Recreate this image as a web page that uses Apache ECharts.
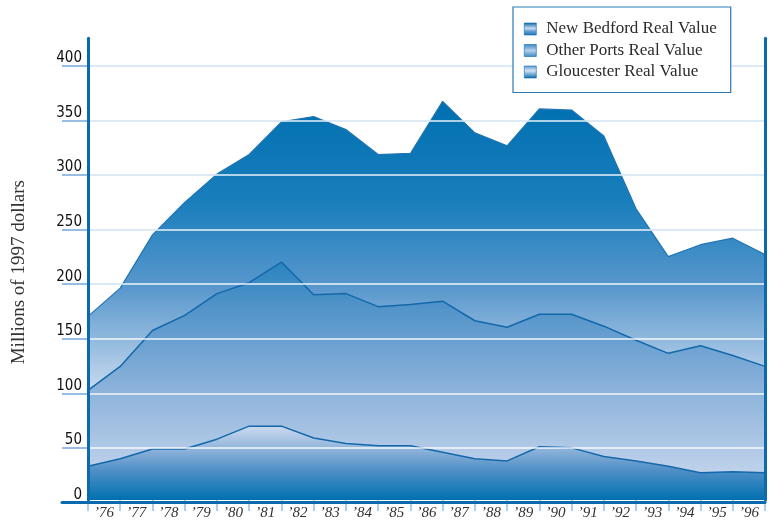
<!DOCTYPE html>
<html>
<head>
<meta charset="utf-8">
<script src="https://cdn.jsdelivr.net/npm/echarts@6/dist/echarts.min.js"></script>
<style>
  html, body { margin: 0; padding: 0; background: #fff; }
  #main { width: 772px; height: 521px; }
</style>
</head>
<body>
<div id="main"></div>
<script>
// points sit on the tick marks, year labels sit between them
const pointKeys = ['76a','77a','78a','79a','80a','81a','82a','83a','84a','85a','86a',
  '87a','88a','89a','90a','91a','92a','93a','94a','95a','96a','96b'];
const yearLabels = ['’76','’77','’78','’79','’80','’81','’82','’83','’84','’85','’86',
  '’87','’88','’89','’90','’91','’92','’93','’94','’95','’96'];

// values in millions of 1997 dollars (stacked: Gloucester, Other Ports, New Bedford)
const gloucester = [31,38,47,47,56,68,68,57,52,50,50,44,38,36,49,48,40,36,31,25,26,25];
const otherPorts = [70,85,109,123,134,132,151,132,138,128,130,139,127,123,122,123,120,111,104,117,107,98];
const newBedford = [68,72,88,104,110,118,129,164,151,140,139,184,173,167,189,188,175,121,89,93,108,103];

const dark = '#0a6aad';
const lightGrid = '#98bde3';
const serif = "'Liberation Serif', 'DejaVu Serif', serif";

function grad(stops) {
  return new echarts.graphic.LinearGradient(0, 0, 0, 1,
    stops.map(s => ({ offset: s[0], color: s[1] })));
}

const chart = echarts.init(document.getElementById('main'));

const option = {
  animation: false,
  backgroundColor: '#fff',
  grid: [
    { left: 62, right: 7, top: 65.7, bottom: 18.3 },   // light blue lines + bottom axis
    { left: 88, right: 7, top: 38.3, bottom: 18.3 },   // data
    { left: 88, right: 7, top: 65.7, bottom: 18.3 }    // white lines + labels
  ],
  legend: {
    orient: 'vertical',
    z: 10,
    left: 513,
    top: 7,
    padding: [13.5, 14, 12, 11],
    itemWidth: 12,
    itemHeight: 12,
    itemGap: 4.5,
    backgroundColor: '#fff',
    borderColor: '#2a7ab8',
    borderWidth: 1.2,
    textStyle: {
      fontFamily: serif,
      fontSize: 17,
      color: '#2b2b2b',
      padding: [0, 0, 0, 5]
    },
    data: [
      { name: 'New Bedford Real Value', icon: 'rect',
        itemStyle: { color: grad([[0, '#0a6aad'], [0.45, '#c9dcf0'], [0.7, '#5c9ad0'], [1, '#1a78b8']]), borderColor: dark, borderWidth: 0.6 } },
      { name: 'Other Ports Real Value', icon: 'rect',
        itemStyle: { color: grad([[0, '#3d88c4'], [0.5, '#b6cfea'], [1, '#3d88c4']]), borderColor: dark, borderWidth: 0.6 } },
      { name: 'Gloucester Real Value', icon: 'rect',
        itemStyle: { color: grad([[0, '#5c9ad0'], [0.4, '#d3e2f3'], [1, '#0a6aad']]), borderColor: dark, borderWidth: 0.6 } }
    ]
  },
  xAxis: [
    { gridIndex: 0, type: 'value', min: 0, max: 1, z: 6,
      axisLine: { show: true, lineStyle: { color: dark, width: 3 } },
      axisTick: { show: false }, axisLabel: { show: false }, splitLine: { show: false } },
    { gridIndex: 1, type: 'category', data: pointKeys, boundaryGap: false,
      axisLine: { show: false }, axisTick: { show: false }, axisLabel: { show: false } },
    { gridIndex: 1, type: 'category', data: yearLabels, boundaryGap: true, position: 'bottom',
      axisLine: { show: false },
      axisTick: { show: true, length: 11, lineStyle: { color: lightGrid, width: 1.5 } },
      axisLabel: {
        margin: 6,
        fontFamily: serif,
        fontStyle: 'italic',
        fontSize: 15,
        color: '#333'
      } },
    { gridIndex: 2, type: 'value', show: false, min: 0, max: 1 }
  ],
  yAxis: [
    { gridIndex: 0, type: 'value', min: 0, max: 400, interval: 50,
      axisLine: { show: false }, axisTick: { show: false }, axisLabel: { show: false },
      splitLine: { show: true, showMinLine: false, lineStyle: { color: lightGrid, width: 2 } } },
    { gridIndex: 1, type: 'value', min: 0, max: 425, z: 6,
      axisLine: { show: true, lineStyle: { color: dark, width: 3 } },
      axisTick: { show: false }, axisLabel: { show: false }, splitLine: { show: false } },
    { gridIndex: 1, type: 'value', min: 0, max: 425, position: 'right', z: 6,
      axisLine: { show: true, lineStyle: { color: dark, width: 3 } },
      axisTick: { show: false }, axisLabel: { show: false }, splitLine: { show: false } },
    { gridIndex: 2, type: 'value', min: 0, max: 400, interval: 50, z: 5,
      name: 'Millions of 1997 dollars',
      nameLocation: 'middle',
      nameGap: 59,
      nameTextStyle: {
        fontFamily: serif,
        fontSize: 19,
        color: '#333',
        padding: [0, 0, 0, 24]
      },
      axisLine: { show: false }, axisTick: { show: false },
      axisLabel: {
        margin: 6,
        verticalAlign: 'bottom',
        fontFamily: "'Liberation Sans Narrow', 'DejaVu Sans Condensed', 'Liberation Sans', sans-serif",
        fontSize: 15,
        color: '#111'
      },
      splitLine: { show: true, showMinLine: false, lineStyle: { color: 'rgba(255,255,255,0.9)', width: 1.6 } } }
  ],
  series: [
    { name: 'Gloucester Real Value', type: 'line', stack: 'ports',
      xAxisIndex: 1, yAxisIndex: 1, data: gloucester,
      symbol: 'none', lineStyle: { color: '#1268ab', width: 1.5 },
      areaStyle: { opacity: 1, color: grad([[0, '#cbdaef'], [0.3, '#92b5db'], [0.6, '#4f8fc6'], [1, '#0070b0']]) } },
    { name: 'Other Ports Real Value', type: 'line', stack: 'ports',
      xAxisIndex: 1, yAxisIndex: 1, data: otherPorts,
      symbol: 'none', lineStyle: { color: '#1268ab', width: 1.5 },
      areaStyle: { opacity: 1, color: grad([[0, '#2a84c0'], [0.2, '#4f92c8'], [0.6, '#8cb2da'], [1, '#bfd2eb']]) } },
    { name: 'New Bedford Real Value', type: 'line', stack: 'ports',
      xAxisIndex: 1, yAxisIndex: 1, data: newBedford,
      symbol: 'none', lineStyle: { color: '#1f74b4', width: 1.2 },
      areaStyle: { opacity: 1, color: grad([[0, '#0070b0'], [0.35, '#1a7ebc'], [0.65, '#5a98cd'], [1, '#c8daee']]) } }
  ]
};

chart.setOption(option);
</script>
</body>
</html>
